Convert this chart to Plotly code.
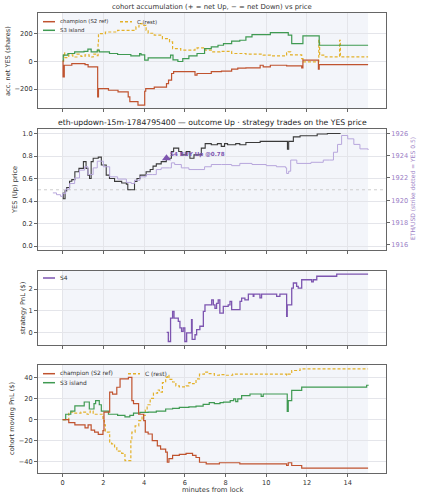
import plotly.graph_objects as go

# ---------------- data ----------------
SESSION = [0, 15]
STRIKE_YES = 0.5

# panel 1: cohort accumulation (shares)
acc_champ_t = [0, 0.02, 0.08, 0.45, 1.1, 1.25, 1.69, 1.72, 1.76, 2.25, 2.72, 3.22, 3.3, 3.7, 4.03, 4.08, 4.5, 5.1, 5.2, 5.35, 5.45, 6.5, 6.6, 7.3, 7.8, 8.3, 8.6, 9.0, 9.7, 9.85, 10.2, 11.0, 11.74, 11.8, 12.56, 12.6, 15.0]
acc_champ_v = [0, -112, -29, -17, -25, -40, -40, -255, -196, -208, -220, -255, -290, -315, -215, -196, -185, -160, -136, -88, -75, -100, -88, -75, -71, -57, -50, -48, -29, -40, -29, -33, -48, 7, -57, -24, -24]
acc_rest_t = [0, 0.05, 0.1, 0.3, 0.5, 0.7, 0.9, 1.1, 1.3, 1.5, 1.7, 1.74, 1.76, 2.1, 2.7, 3.6, 3.75, 3.9, 4.1, 4.2, 4.5, 4.9, 5.25, 5.4, 5.8, 6.5, 6.6, 7.0, 7.3, 7.73, 8.3, 9.0, 9.85, 10.2, 11.0, 11.08, 11.2, 11.74, 11.8, 12.56, 12.58, 12.62, 12.9, 13.58, 13.6, 13.64, 15.0]
acc_rest_v = [0, 60, 25, 45, 30, 50, 35, 45, 30, 50, 40, 130, 197, 209, 221, 245, 269, 257, 221, 200, 186, 162, 138, 90, 79, 90, 95, 79, 67, 71, 55, 50, 43, 38, 60, 67, 45, 19, -5, -5, 150, 43, 31, 31, 150, 31, 31]
acc_s3_t = [0, 0.03, 0.26, 0.59, 1.05, 1.24, 1.4, 1.7, 1.8, 2.3, 2.7, 3.35, 3.78, 3.85, 4.03, 4.2, 5.3, 5.42, 5.66, 5.9, 6.2, 6.6, 6.97, 7.3, 7.63, 7.9, 8.3, 8.7, 9.0, 9.3, 10.2, 11.0, 11.08, 11.25, 11.74, 11.8, 12.56, 12.6, 15.0]
acc_s3_v = [0, 43, 55, 67, 71, 86, 67, 79, 67, 55, 48, 38, 55, 45, 7, 24, 43, 10, -2, 19, 38, 55, 90, 102, 114, 126, 143, 150, 174, 190, 205, 205, 186, 126, 126, 181, 181, 114, 114]

# panel 2: YES price and ETH/USD
yes_t = [0, 0.03, 0.12, 0.2, 0.34, 0.45, 0.6, 0.8, 1.02, 1.15, 1.24, 1.32, 1.4, 1.5, 1.75, 1.9, 2.14, 2.3, 2.55, 2.9, 3.13, 3.2, 3.53, 3.65, 3.8, 4.1, 4.3, 4.44, 4.6, 4.84, 5.09, 5.34, 5.45, 5.7, 5.85, 6.07, 6.25, 6.45, 6.81, 7.0, 7.3, 7.6, 7.79, 7.95, 8.1, 8.5, 8.7, 9.0, 9.7, 11.0, 11.04, 11.1, 11.33, 11.66, 12.5, 13.0, 13.65]
yes_v = [0.47, 0.42, 0.49, 0.52, 0.576, 0.59, 0.66, 0.69, 0.75, 0.69, 0.63, 0.6, 0.75, 0.78, 0.79, 0.72, 0.63, 0.6, 0.575, 0.56, 0.55, 0.5, 0.575, 0.6, 0.63, 0.66, 0.68, 0.71, 0.73, 0.75, 0.78, 0.84, 0.87, 0.84, 0.81, 0.84, 0.78, 0.81, 0.87, 0.91, 0.9, 0.91, 0.886, 0.91, 0.9, 0.91, 0.9, 0.92, 0.93, 0.93, 0.86, 0.93, 0.97, 0.98, 0.995, 1.0, 1.0]
eth_t = [-0.48, -0.3, -0.1, 0.0, 0.15, 0.34, 0.59, 0.83, 1.08, 1.24, 1.5, 1.7, 1.83, 2.0, 2.31, 2.7, 3.13, 3.37, 3.53, 3.8, 4.1, 4.4, 4.6, 4.84, 5.25, 5.34, 5.5, 5.83, 6.2, 6.6, 6.97, 7.3, 7.8, 8.3, 8.7, 9.3, 10.0, 10.5, 10.95, 11.0, 11.1, 11.2, 11.5, 12.2, 12.8, 13.1, 13.3, 13.5, 13.7, 14.0, 14.3, 14.6, 15.0]
eth_v = [1920.66, 1920.5, 1920.35, 1920.6, 1921.0, 1921.5, 1922.0, 1922.7, 1923.0, 1922.3, 1922.9, 1923.5, 1923.5, 1923.0, 1922.1, 1921.9, 1921.6, 1921.5, 1921.8, 1922.1, 1922.3, 1922.3, 1922.75, 1922.9, 1922.9, 1923.35, 1923.2, 1922.9, 1922.75, 1922.75, 1923.0, 1923.2, 1923.2, 1923.1, 1923.3, 1923.2, 1923.1, 1923.0, 1922.9, 1922.4, 1922.6, 1923.6, 1923.3, 1923.4, 1923.6, 1923.6, 1924.3, 1925.0, 1925.8, 1925.5, 1925.0, 1924.6, 1924.5]
trade_t = [5.1]
trade_price = [0.78]
trade_label = ["S4 BUY Up @0.78"]

# panel 3: S4 strategy PnL
s4_t = [5.11, 5.19, 5.30, 5.40, 5.47, 5.68, 5.76, 5.84, 5.92, 6.0, 6.09, 6.33, 6.36, 6.50, 6.58, 6.74, 6.91, 6.99, 7.32, 7.40, 7.48, 7.56, 7.64, 7.72, 7.89, 8.13, 8.22, 8.30, 8.71, 8.79, 8.95, 9.12, 9.36, 9.39, 9.69, 9.77, 10.51, 10.67, 11.0, 11.03, 11.25, 11.33, 11.49, 11.57, 11.74, 12.23, 12.31, 12.48, 13.46, 15.0]
s4_v = [0.02, -0.4, 0.67, 0.98, 0.67, 0.52, 0.22, 0.06, 0.22, -0.4, 0.0, 0.6, -0.3, -0.09, 0.14, 0.3, 0.98, 1.28, 1.51, 1.28, 1.12, 1.35, 1.51, 0.9, 1.21, 1.28, 1.44, 1.06, 1.44, 1.59, 1.51, 1.77, 1.67, 1.77, 1.6, 1.77, 1.67, 1.77, 0.75, 1.28, 2.05, 2.28, 2.13, 2.05, 2.43, 2.33, 2.43, 2.59, 2.69, 2.69]

# panel 4: cohort moving PnL ($)
pnl_champ_t = [0, 0.3, 0.6, 1.1, 1.25, 1.4, 1.57, 1.75, 1.98, 2.03, 2.31, 2.45, 2.66, 2.82, 3.23, 3.4, 3.48, 3.73, 3.98, 4.06, 4.2, 4.4, 4.65, 4.81, 5.06, 5.14, 5.22, 5.4, 5.73, 6.06, 6.38, 6.55, 6.72, 7.05, 7.7, 8.7, 11.0, 11.08, 11.25, 11.74, 15.0]
pnl_champ_v = [0, -3, -5, -8, -5, -10, -12, -14, -10.5, 7, 26, 24, 30.6, 38.5, 40, 18, 15, 5, -1, -12, -13.7, -20, -25, -28, -31, -40.5, -37, -34, -33, -32, -34, -36, -40.5, -42, -41, -42, -43.6, -41, -43.6, -46, -46]
pnl_rest_t = [0, 0.3, 0.6, 0.9, 1.2, 1.35, 1.5, 1.98, 2.05, 2.1, 2.31, 2.4, 2.55, 2.66, 2.9, 3.06, 3.35, 3.4, 3.56, 3.74, 3.9, 4.06, 4.15, 4.3, 4.46, 4.66, 4.75, 4.9, 5.06, 5.14, 5.22, 5.4, 5.56, 5.73, 6.06, 6.2, 6.38, 6.55, 6.72, 6.96, 7.2, 7.45, 7.7, 8.0, 8.35, 11.0, 11.08, 11.25, 11.66, 15.0]
pnl_rest_v = [0, 7, 6, 7, 5, 8, 5, -1, -5, -12, -21.5, -23, -26.5, -30, -32, -39, -19, -12, -6, -1, 4, 9, 14, 20, 25, 28, 26, 35, 40, 42, 38, 35.6, 32, 31, 32, 35, 34, 38.5, 43, 45, 43.5, 42, 42.5, 42, 43, 42, 43, 46.5, 48, 48]
pnl_s3_t = [0, 0.15, 0.4, 0.6, 1.06, 1.31, 1.54, 1.62, 1.8, 1.9, 2.25, 2.7, 3.06, 3.3, 3.48, 3.8, 4.2, 4.6, 5.06, 5.4, 5.73, 6.2, 6.55, 6.9, 7.2, 7.45, 7.73, 7.9, 8.23, 8.4, 8.5, 8.6, 8.79, 9.2, 9.75, 9.85, 11.0, 11.03, 11.08, 11.25, 11.74, 14.93, 15.0]
pnl_s3_v = [0, 5, 8, 13, 16.6, 10, 15, 18, 14, 8, 5, 4, 2.6, 4, 6, 6.8, 7, 8, 10, 10.5, 11.5, 12, 12.7, 14.4, 16, 15, 16, 16.5, 18, 19.5, 17, 19.5, 22.6, 24.2, 22, 24.2, 24.2, 7.6, 18, 27.6, 30.8, 32.5, 33]

x_ticks = [0, 2, 4, 6, 8, 10, 12, 14]

# ---------------- style ----------------
W, H = 421, 500
FONT = "DejaVu Sans"
C_CHAMP = "#c0532f"
C_REST = "#e3b12a"
C_S3 = "#3f9a52"
C_S4 = "#7d55b0"
C_YES = "#3a3a3a"
C_ETH = "#b7a6dc"
C_ETHAX = "#9b80c6"
SHADE = "#f3f5fa"
GRID = "#e4e5ea"
FRAME = "#666666"
TXT = "#333333"

def px_x(p):
    return p / W

def px_y(p):
    return 1 - p / H

XDOM = [px_x(38), px_x(386)]
DOMS = {1: [px_y(108), px_y(13)], 2: [px_y(250), px_y(129)],
        3: [px_y(345), px_y(271)], 4: [px_y(473), px_y(365)]}
YR = {1: [-335, 345], 2: [-0.035, 1.04], 3: [-0.56, 2.83], 4: [-50.7, 51.7]}
YT = {1: [-200, 0, 200], 2: [0, 0.2, 0.4, 0.6, 0.8, 1.0], 3: [0, 1, 2], 4: [-40, -20, 0, 20, 40]}

fig = go.Figure()

def add_line(t, v, k, color, dash="solid", shape="hv", width=1.2, name=None):
    fig.add_trace(go.Scatter(x=t, y=v, mode="lines", line=dict(color=color, width=width, dash=dash, shape=shape),
                             xaxis="x" if k == 1 else f"x{k}", yaxis="y" if k == 1 else f"y{k}",
                             showlegend=False, name=name, hoverinfo="skip"))

# panel 1
add_line(acc_rest_t, acc_rest_v, 1, C_REST, dash="3px,2px")
add_line(acc_s3_t, acc_s3_v, 1, C_S3)
add_line(acc_champ_t, acc_champ_v, 1, C_CHAMP)
# panel 2
fig.add_trace(go.Scatter(x=eth_t, y=eth_v, mode="lines", line=dict(color=C_ETH, width=1, shape="hv"),
                         xaxis="x2", yaxis="y5", showlegend=False, hoverinfo="skip"))
add_line(yes_t, yes_v, 2, C_YES, width=1.1)
fig.add_trace(go.Scatter(x=trade_t, y=trade_price, mode="markers",
                         marker=dict(symbol="triangle-up", size=8, color=C_S4),
                         xaxis="x2", yaxis="y2", showlegend=False, hoverinfo="skip"))
# panel 3
add_line(s4_t, s4_v, 3, C_S4, width=1.3)
# panel 4
add_line(pnl_rest_t, pnl_rest_v, 4, C_REST, dash="3px,2px")
add_line(pnl_s3_t, pnl_s3_v, 4, C_S3)
add_line(pnl_champ_t, pnl_champ_v, 4, C_CHAMP)

tickfont = dict(family=FONT, size=6.6, color=TXT)
for k in range(1, 5):
    xa = dict(domain=XDOM, range=[-1.21, 15.88], tickvals=x_ticks, ticks="outside", ticklen=3,
              tickcolor=FRAME, showline=True, mirror=True, linecolor=FRAME, linewidth=1.1,
              showgrid=True, gridcolor=GRID, gridwidth=1, zeroline=False,
              anchor="y" if k == 1 else f"y{k}", tickfont=tickfont,
              showticklabels=(k == 4))
    if k != 1:
        xa["matches"] = "x"
    ya = dict(domain=DOMS[k], range=YR[k], tickvals=YT[k], ticks="outside", ticklen=3, tickcolor=FRAME,
              showline=True, mirror=True, linecolor=FRAME, linewidth=1.1, showgrid=True, gridcolor=GRID,
              zeroline=False, anchor="x" if k == 1 else f"x{k}", tickfont=tickfont)
    if k == 2:
        ya["tickformat"] = ".1f"
    fig.update_layout(**{("xaxis" if k == 1 else f"xaxis{k}"): xa, ("yaxis" if k == 1 else f"yaxis{k}"): ya})

fig.update_layout(yaxis5=dict(overlaying="y2", side="right", anchor="x2", range=[1915.55, 1926.38],
                              tickvals=[1916, 1918, 1920, 1922, 1924, 1926], ticks="outside", ticklen=3,
                              tickcolor=FRAME, showgrid=False, zeroline=False,
                              tickfont=dict(family=FONT, size=6.6, color=C_ETHAX)))

shapes = []
for k in range(1, 5):
    shapes.append(dict(type="rect", xref="x" if k == 1 else f"x{k}", yref=("y" if k == 1 else f"y{k}") + " domain",
                       x0=SESSION[0], x1=SESSION[1], y0=0, y1=1, fillcolor=SHADE, line=dict(width=0), layer="below"))
shapes.append(dict(type="line", xref="x2 domain", yref="y2", x0=0, x1=1, y0=STRIKE_YES, y1=STRIKE_YES,
                   line=dict(color="#c8c8c8", width=0.9, dash="dot"), layer="below"))

ann = []
def text(x, y, s, size, color=TXT, xanchor="center", angle=0, bold=False):
    ann.append(dict(x=px_x(x), y=px_y(y), xref="paper", yref="paper", text=f"<b>{s}</b>" if bold else s,
                    showarrow=False, xanchor=xanchor, yanchor="middle", textangle=angle,
                    font=dict(family=FONT, size=size, color=color)))

text(212, 7, "cohort accumulation (+ = net Up, − = net Down) vs price", 6.9)
text(212, 122, "eth-updown-15m-1784795400 — outcome Up · strategy trades on the YES price", 7.7, color="#222")
text(8, 61, "acc. net YES (shares)", 6.6, angle=-90)
text(15, 190, "YES (Up) price", 6.6, angle=-90)
text(22.5, 308, "strategy PnL ($)", 6.6, angle=-90)
text(12, 419, "cohort moving PnL ($)", 6.6, angle=-90)
text(412, 189, "ETH/USD (strike dotted = YES 0.5)", 6.0, color=C_ETHAX, angle=-90)
text(212, 490, "minutes from lock", 6.8)

# trade annotation
ann.append(dict(x=trade_t[0], y=trade_price[0], xref="x2", yref="y2", text=f"<b>{trade_label[0]}</b>",
                showarrow=False, xanchor="left", yanchor="middle", xshift=2, yshift=4,
                font=dict(family=FONT, size=5.6, color=C_S4)))

# legends (manual)
def legend_item(x0, y, label, color, size, dash="solid"):
    shapes.append(dict(type="line", xref="paper", yref="paper", x0=px_x(x0), x1=px_x(x0 + 12), y0=px_y(y), y1=px_y(y),
                       line=dict(color=color, width=1.5, dash=dash)))
    text(x0 + 15, y, label, size, xanchor="left")

legend_item(43, 21.7, "champion (S2 ref)", C_CHAMP, 5.4)
legend_item(120, 21.7, "C (rest)", C_REST, 5.4, dash="3px,2px")
legend_item(43, 30.3, "S3 island", C_S3, 5.4)
legend_item(43, 278, "S4", C_S4, 5.9)
legend_item(43, 373.7, "champion (S2 ref)", C_CHAMP, 5.9)
legend_item(128, 373.7, "C (rest)", C_REST, 5.9, dash="3px,2px")
legend_item(43, 382.7, "S3 island", C_S3, 5.9)

fig.update_layout(width=W, height=H, margin=dict(l=0, r=0, t=0, b=0), paper_bgcolor="white",
                  plot_bgcolor="white", shapes=shapes, annotations=ann, showlegend=False,
                  font=dict(family=FONT, size=7, color=TXT))

fig.write_html("out.html")
